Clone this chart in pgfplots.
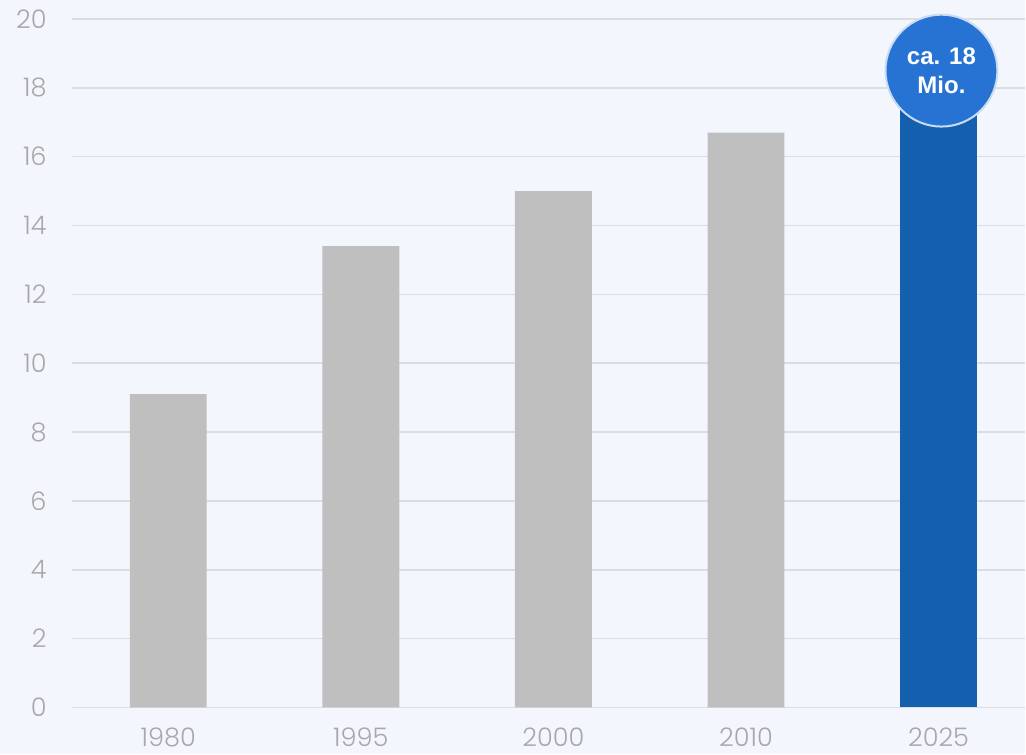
\documentclass[border=0pt]{standalone}
\usepackage{pgfplots}
\pgfplotsset{compat=1.18}
\usepackage{fontspec}
\setmainfont{Poppins}[UprightFont=* Light]
\newfontfamily\labelfont{Liberation Sans}
\definecolor{bgcol}{HTML}{F3F7FD}
\definecolor{gridcol}{HTML}{DADDE2}
\definecolor{bargray}{HTML}{BFBFBF}
\definecolor{barblue}{HTML}{1460AE}
\definecolor{circblue}{HTML}{2673D3}
\definecolor{tickcol}{HTML}{A8A8A8}
\begin{document}
\begin{tikzpicture}
\fill[bgcol] (0,0) rectangle (513pt,377.5pt);
\begin{axis}[
  at={(36pt,23.5pt)}, anchor=south west,
  scale only axis, width=477pt, height=344.5pt,
  xmin=-0.5, xmax=4.45, ymin=0, ymax=20,
  ytick={0,2,...,20},
  xtick={0,1,2,3,4},
  xticklabels={1980,1995,2000,2010,2025},
  axis line style={draw=none},
  major tick length=0pt,
  ymajorgrids, grid style={gridcol, line width=0.8pt},
  /pgf/number format/assume math mode=true,
  ticklabel style={font=\fontsize{12.8}{14}\selectfont, text=tickcol, inner sep=0pt},
  yticklabel style={anchor=east, xshift=-12.5pt},
  xticklabel style={anchor=north, yshift=-10pt},
  clip=false,
]
\addplot[ybar, bar width=38.5pt, bar shift=0pt, fill=bargray, draw=none]
  coordinates {(0,9.1) (1,13.4) (2,15.0) (3,16.7)};
\addplot[ybar, bar width=38.5pt, bar shift=0pt, fill=barblue, draw=none]
  coordinates {(4,18)};
\node[circle, fill=circblue, draw=white!75!circblue, line width=1pt,
  minimum size=56pt, inner sep=0pt, text=white,
  font=\labelfont\bfseries\fontsize{12}{14.5}\selectfont, align=center]
  at (axis cs:4.015,18.5) {ca. 18\\Mio.};
\end{axis}
\end{tikzpicture}
\end{document}
